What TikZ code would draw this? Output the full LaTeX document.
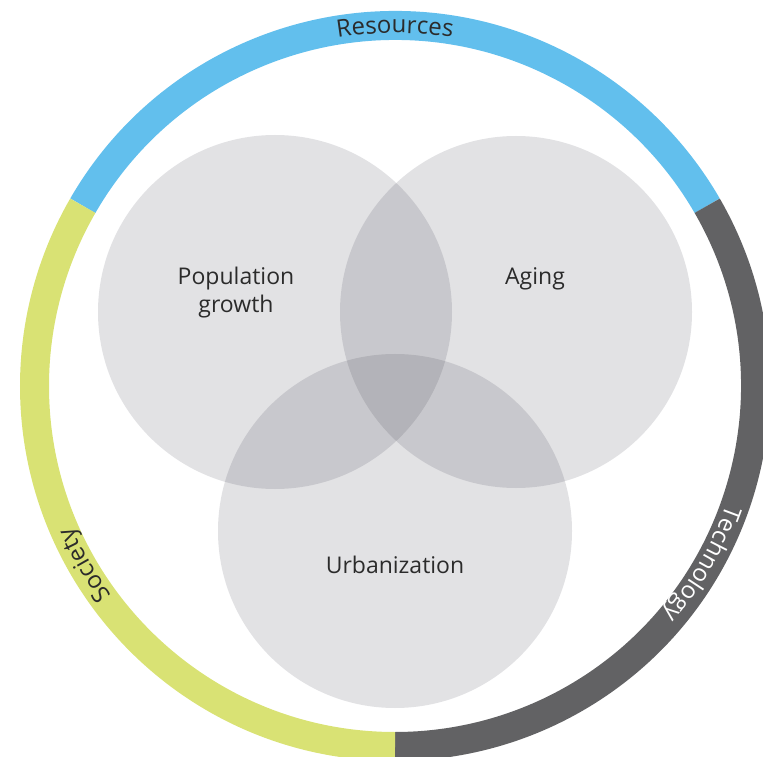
\documentclass[tikz,border=0pt]{standalone}
\usepackage{fontspec}
\setmainfont{Open Sans}
\usetikzlibrary{decorations.text}
\definecolor{resblue}{HTML}{62BFED}
\definecolor{socgreen}{HTML}{D9E274}
\definecolor{techgray}{HTML}{626264}
\definecolor{vennbase}{rgb}{0.09,0.09,0.16}
\definecolor{txtdark}{HTML}{2B2B2B}
\newcommand{\mainfnt}{\fontsize{23}{28}\selectfont}
\newcommand{\ringfnt}{\fontsize{24}{28}\selectfont}
\tikzset{
  ringseg/.style={line width=29pt},
  venn/.style={fill=vennbase, fill opacity=0.125},
  venntext/.style={font=\mainfnt, text=txtdark, inner sep=0pt, align=center}
}
\begin{document}
\begin{tikzpicture}[x=1pt,y=1pt]
\useasboundingbox (0,0) rectangle (763,756);
\coordinate (O) at (395,370);
% ring
\draw[ringseg, resblue] (O) ++(150:360.5) arc[start angle=150, end angle=30, radius=360.5];
\draw[ringseg, techgray] (O) ++(30:360.5) arc[start angle=30, end angle=-90, radius=360.5];
\draw[ringseg, socgreen] (O) ++(270:360.5) arc[start angle=270, end angle=150, radius=360.5];
% ring labels
\path[decorate, decoration={text along path, text align=center,
  text={|\ringfnt\color{txtdark}|Resources}}]
  (O) ++(150:353) arc[start angle=150, end angle=30, radius=353];
\path[decorate, decoration={text along path, text align=center,
  text={|\ringfnt\color{white}|Technology}}]
  (O) ++(30:352) arc[start angle=30, end angle=-90, radius=352];
\path[decorate, decoration={text along path, text align=center,
  text={|\ringfnt\color{txtdark}|Society}}]
  (O) ++(270:352) arc[start angle=270, end angle=150, radius=352];
% venn circles
\fill[venn] (275,444) circle[radius=177];
\fill[venn] (516,444) circle[radius=176];
\fill[venn] (395,225) circle[radius=177];
% labels
\node[venntext] (pop) at (236,463) {Population\\growth};
\node[venntext] (aging) at (535,477) {Aging};
\node[venntext] (urban) at (395,191) {Urbanization};
\end{tikzpicture}
\end{document}
